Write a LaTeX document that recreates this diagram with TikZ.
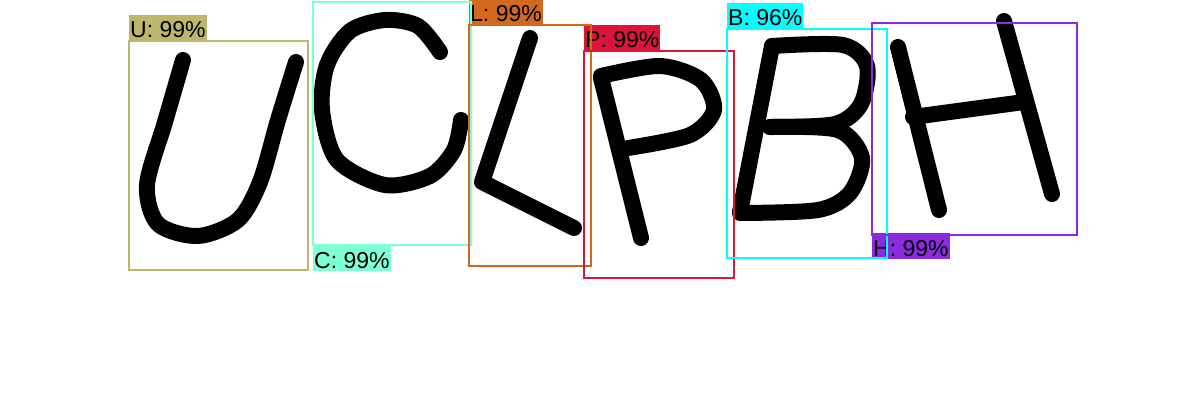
\documentclass[tikz,border=0pt]{standalone}
\usepackage{fontspec}
\setmainfont{Liberation Sans}
\definecolor{ukhaki}{HTML}{BDB76B}
\definecolor{caqua}{HTML}{7FFFD4}
\definecolor{lchoc}{HTML}{D2691E}
\definecolor{pcrim}{HTML}{DC143C}
\definecolor{bcyan}{HTML}{00FFFF}
\definecolor{hviolet}{HTML}{8A2BE2}
\begin{document}
\begin{tikzpicture}[x=1pt,y=-1pt,
    letter/.style={line width=16pt, line cap=round, line join=round},
    box/.style={line width=2pt},
    tag/.style={inner xsep=1pt, inner ysep=1pt, text height=22pt, text depth=2pt,
        font=\fontsize{23}{26}\selectfont}]
\useasboundingbox[fill=white] (0,0) rectangle (1200,420);

% the letters
\draw[letter] plot[smooth] coordinates {(183,60) (165,122) (147,185) (158,224) (198,236) (238,220) (260,182) (278,120) (296,62)};
\draw[letter] plot[smooth] coordinates {(440,52) (418,26) (385,20) (350,31) (327,65) (322,110) (337,160) (385,185) (430,176) (454,150) (461,120)};
\draw[letter] (530,38)--(482,182)--(574,228);
\draw[letter] (601,78)--(641,238);
\draw[letter] plot[smooth] coordinates {(601,76) (660,66) (701,80) (714,110) (690,135) (628,148)};
\draw[letter] (772,46)--(740,212);
\draw[letter] plot[smooth] coordinates {(772,46) (843,45) (867,66) (861,104) (835,124) (770,127)};
\draw[letter] plot[smooth] coordinates {(770,127) (838,130) (862,158) (850,193) (818,210) (740,213)};
\draw[letter] (898,47)--(939,210);
\draw[letter] (1004,21)--(1052,194);
\draw[letter] (913,117)--(1024,102);

% labels, then boxes
\foreach \n/\p/\x/\y/\X/\Y/\c/\anc/\ly in {U/99/129/41/308/270/ukhaki/south west/41,
    C/99/313/2/471/245/caqua/north west/245, L/99/469/25/591/266/lchoc/south west/25,
    P/99/584/51/734/278/pcrim/south west/51, B/96/727/29/887/258/bcyan/south west/29,
    H/99/872/23/1077/235/hviolet/north west/233}
{
    \node[tag, fill=\c, anchor=\anc] (tag\n) at (\x,\ly) {\n: \p\%};
}
\foreach \x/\y/\X/\Y/\c in {129/41/308/270/ukhaki, 313/2/471/245/caqua, 469/25/591/266/lchoc,
    584/51/734/278/pcrim, 727/29/887/258/bcyan, 872/23/1077/235/hviolet}
{
    \draw[box, \c](\x,\y) rectangle (\X,\Y);
}
\end{tikzpicture}
\end{document}
